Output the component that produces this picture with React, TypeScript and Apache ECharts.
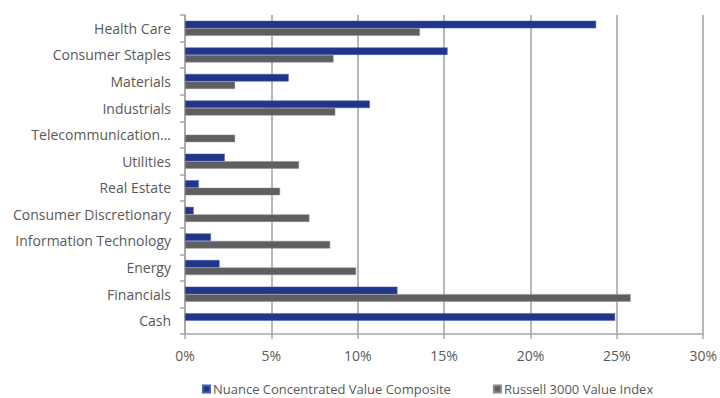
import React, { useEffect, useRef } from "react";
import * as echarts from "echarts";

const categories = [
  "Health Care",
  "Consumer Staples",
  "Materials",
  "Industrials",
  "Telecommunication…",
  "Utilities",
  "Real Estate",
  "Consumer Discretionary",
  "Information Technology",
  "Energy",
  "Financials",
  "Cash",
];
const nuanceValues = [23.8, 15.2, 6.0, 10.7, null, 2.3, 0.8, 0.5, 1.5, 2.0, 12.3, 24.9];
const russellValues = [13.6, 8.6, 2.9, 8.7, 2.9, 6.6, 5.5, 7.2, 8.4, 9.9, 25.8, null];
const xTicks = [0, 5, 10, 15, 20, 25, 30];

const FONT = "'Open Sans', 'Noto Sans', sans-serif";
const TEXT = "#595959";

export default function App() {
  const ref = useRef<HTMLDivElement>(null);
  useEffect(() => {
    if (!ref.current) return;
    const chart = echarts.init(ref.current, undefined, { renderer: "svg" });
    chart.setOption({
      animation: false,
      grid: { left: 185, right: 12, top: 15, bottom: 64, containLabel: false },
      legend: {
        left: 202,
        top: 382,
        padding: 0,
        itemWidth: 7,
        itemHeight: 7,
        itemGap: 42,
        icon: "rect",
        textStyle: {
          color: TEXT,
          fontFamily: FONT,
          fontSize: 13,
          lineHeight: 14,
          padding: [0, 0, 0, -2],
        },
        data: ["Nuance Concentrated Value Composite", "Russell 3000 Value Index"],
      },
      xAxis: {
        type: "value",
        min: xTicks[0],
        max: xTicks[xTicks.length - 1],
        interval: 5,
        axisLine: { show: true, lineStyle: { color: "#a6a6a6", width: 1.5 } },
        axisTick: { show: true, length: 5, lineStyle: { color: "#a6a6a6", width: 1.5 } },
        splitLine: { show: true, lineStyle: { color: "#a0a0a0", width: 1.5 } },
        axisLabel: {
          color: TEXT,
          fontFamily: FONT,
          fontSize: 14,
          margin: 14,
          formatter: (v: number) => `${v}%`,
        },
      },
      yAxis: {
        type: "category",
        data: categories,
        inverse: true,
        axisLine: { show: true, lineStyle: { color: "#a6a6a6", width: 1.5 } },
        axisTick: { show: true, length: 5, lineStyle: { color: "#a6a6a6", width: 1.5 } },
        axisLabel: { color: TEXT, fontFamily: FONT, fontSize: 14, margin: 14 },
      },
      series: [
        {
          name: "Nuance Concentrated Value Composite",
          type: "bar",
          data: nuanceValues,
          barWidth: 7.5,
          barGap: "0%",
          itemStyle: { color: "#20368a", borderColor: "#4a5ea8", borderWidth: 0.5 },
        },
        {
          name: "Russell 3000 Value Index",
          type: "bar",
          data: russellValues,
          barWidth: 7.5,
          barGap: "0%",
          itemStyle: { color: "#5f5f61", borderColor: "#8a8a8c", borderWidth: 0.5 },
        },
      ],
    });
    return () => chart.dispose();
  }, []);
  return <div ref={ref} style={{ width: 720, height: 398, position: "absolute", left: 0, top: 0 }} />;
}
